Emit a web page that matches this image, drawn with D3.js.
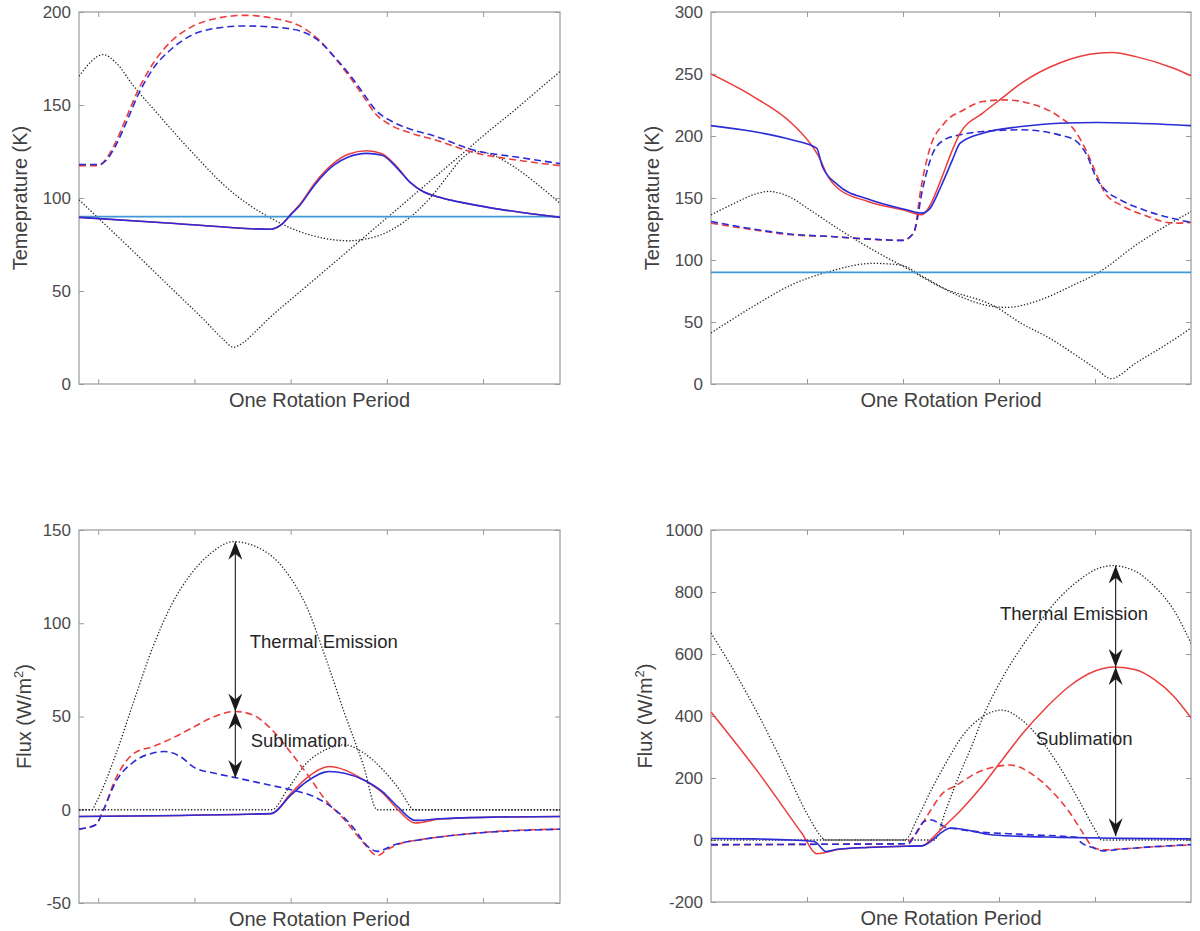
<!DOCTYPE html>
<html>
<head>
<meta charset="utf-8">
<script src="https://cdn.jsdelivr.net/npm/d3@7"></script>
<style>
body { margin: 0; background: #fff; }
text { font-family: "Liberation Sans", Arial, sans-serif; }
</style>
</head>
<body>
<script>
// x = fraction of one rotation period (0..1), y = value

// ---- tick labels ----
var rotTicksA = [0.04, 0.24, 0.44, 0.64, 0.84];
var rotTicksB = [0.2, 0.4, 0.6, 0.8];
var tempTicks1 = [0, 50, 100, 150, 200];
var tempTicks2 = [0, 50, 100, 150, 200, 250, 300];
var fluxTicks3 = [-50, 0, 50, 100, 150];
var fluxTicks4 = [-200, 0, 200, 400, 600, 800, 1000];

// ---- panel 1 : temperature (K) ----
var t1Cyan = [[0, 90], [1, 90]];
var t1RedSolid = [[0,89.6],[0.2,86.3],[0.399,83.2],[0.42,85.5],[0.441,91.5],[0.459,96.5],[0.49,108],[0.529,118.6],[0.56,123.5],[0.598,125.4],[0.63,123.8],[0.66,117],[0.688,108.5],[0.715,103.5],[0.737,101.3],[0.77,99],[0.806,97.1],[0.875,93.9],[0.945,91.4],[1,89.6]];
var t1BlueSolid = [[0,89.6],[0.2,86.3],[0.399,83.2],[0.42,85.5],[0.441,91.2],[0.459,96],[0.49,107],[0.529,117.5],[0.56,122],[0.598,124],[0.63,123],[0.66,116.5],[0.688,108.5],[0.715,103.5],[0.737,101.3],[0.77,99],[0.806,97.1],[0.875,93.9],[0.945,91.4],[1,89.6]];
var t1RedDash = [[0,117.4],[0.041,117.4],[0.059,122],[0.075,129.3],[0.099,143.6],[0.123,158],[0.154,172.3],[0.194,184.8],[0.234,192],[0.282,196.4],[0.345,198.2],[0.409,196.4],[0.457,192.8],[0.496,185.7],[0.536,174],[0.568,163.3],[0.592,154.4],[0.616,145.4],[0.648,139.2],[0.695,134.5],[0.737,131.5],[0.82,124.5],[0.91,120.4],[1,117.4]];
var t1BlueDash = [[0,118],[0.041,118],[0.059,121],[0.075,127.5],[0.099,141],[0.123,155.5],[0.154,169.5],[0.194,180.5],[0.234,187.5],[0.282,191.2],[0.345,192.5],[0.409,191.8],[0.457,190],[0.496,185],[0.536,174.5],[0.568,164.5],[0.592,156],[0.616,147.5],[0.648,141.5],[0.695,136.5],[0.737,133.5],[0.82,125.8],[0.91,122],[1,118.5]];
var t1DotA = [[0,165.5],[0.051,177.1],[0.075,173.2],[0.115,159.7],[0.154,148.1],[0.234,124.9],[0.313,104.3],[0.393,90],[0.459,81.9],[0.51,78.3],[0.56,77],[0.62,79.5],[0.68,88],[0.73,100],[0.77,113],[0.795,121],[0.82,125],[0.85,124],[0.9,117.5],[0.95,108],[1,97.1]];
var t1DotB = [[0,99],[0.1,74.5],[0.2,49.5],[0.26,34.5],[0.3,24],[0.321,19.8],[0.34,22],[0.37,29],[0.4,36.5],[0.45,47.5],[0.5,58.5],[0.55,69.5],[0.6,80.5],[0.65,91.5],[0.7,102.5],[0.75,113.5],[0.8,124.5],[0.85,135.5],[0.9,146],[0.95,157],[1,168]];

// ---- panel 2 : temperature (K) ----
var t2Cyan = [[0, 90], [1, 90]];
var t2RedSolid = [[0,250],[0.088,231.8],[0.168,210.3],[0.216,188.8],[0.228,180.8],[0.24,170],[0.264,157.9],[0.327,147.2],[0.407,139.7],[0.439,136.4],[0.455,143.2],[0.479,164.6],[0.503,188.8],[0.519,202.3],[0.566,218.4],[0.606,230.5],[0.646,242.5],[0.725,258.7],[0.805,266.7],[0.837,267.3],[0.885,264],[0.964,254.6],[1,248.5]];
var t2BlueSolid = [[0,208.4],[0.088,203.6],[0.168,196.9],[0.22,190.2],[0.232,175.4],[0.264,160.6],[0.327,149.1],[0.407,140.5],[0.439,137.8],[0.455,141],[0.479,159.3],[0.503,180.8],[0.519,194.2],[0.566,202.3],[0.646,207.6],[0.725,210.3],[0.805,210.9],[0.885,210.3],[1,208.4]];
var t2RedDash = [[0,129.7],[0.088,124.4],[0.168,120.3],[0.247,119],[0.327,116.8],[0.399,115.8],[0.422,121.7],[0.438,159.3],[0.455,188.8],[0.486,210.3],[0.526,221],[0.566,227.8],[0.614,229.1],[0.662,226.4],[0.725,215.7],[0.757,204.9],[0.781,188.8],[0.805,167.3],[0.821,153.9],[0.853,144.5],[0.901,136.4],[0.964,129.7],[1,130.3]];
var t2BlueDash = [[0,131],[0.088,125],[0.168,120.8],[0.247,119],[0.327,117],[0.399,115.8],[0.422,121.7],[0.442,159.3],[0.462,186.1],[0.486,196.9],[0.518,200.9],[0.566,203.6],[0.646,205],[0.725,200.9],[0.757,196.9],[0.781,186.1],[0.805,164.6],[0.821,156.6],[0.853,148.5],[0.901,140.5],[1,130.3]];
var t2DotA = [[0,136.4],[0.049,145.8],[0.088,152.6],[0.12,155.3],[0.168,150],[0.2,142],[0.269,124.2],[0.338,108],[0.408,93.3],[0.477,78.5],[0.595,61.8],[0.646,49],[0.706,36.8],[0.765,22],[0.805,11.5],[0.833,4.3],[0.885,16.9],[0.964,35.7],[1,45.1]];
var t2DotB = [[0,41.1],[0.088,62.6],[0.168,80],[0.247,90.8],[0.338,97.3],[0.394,96],[0.442,86.5],[0.512,71.8],[0.581,62.9],[0.616,61.8],[0.685,67.7],[0.755,79.8],[0.807,89.8],[0.885,112],[0.95,128],[1,139]];

// ---- panel 3 : flux (W/m2) ----
var f3RedSolid = [[0,-3.6],[0.399,-2.1],[0.441,8.9],[0.473,17],[0.52,23.2],[0.552,21.4],[0.592,16],[0.632,8.9],[0.663,0],[0.699,-7.1],[0.751,-5],[0.87,-3.9],[1,-3.6]];
var f3BlueSolid = [[0,-3.6],[0.399,-2.1],[0.441,8],[0.473,15],[0.52,20.5],[0.552,19.6],[0.592,16],[0.632,9.5],[0.663,1.5],[0.699,-5.7],[0.751,-4.8],[0.87,-3.9],[1,-3.6]];
var f3RedDash = [[0,-10.4],[0.035,-8],[0.051,0],[0.075,16],[0.115,30.4],[0.154,33.9],[0.194,38.4],[0.234,43.75],[0.274,49.1],[0.325,52.7],[0.361,50.9],[0.401,42.9],[0.441,30.4],[0.473,19.6],[0.512,5.4],[0.552,-5.4],[0.592,-17.9],[0.62,-24.6],[0.64,-21.4],[0.671,-17.9],[0.711,-16],[0.791,-13.4],[0.87,-11.6],[1,-10.4]];
var f3BlueDash = [[0,-10.4],[0.035,-8],[0.051,0],[0.075,14.3],[0.115,25.9],[0.154,30.4],[0.178,31.25],[0.21,28.6],[0.242,22.3],[0.282,19.6],[0.329,17],[0.393,13.4],[0.441,10.7],[0.488,7.1],[0.528,0.9],[0.568,-8.9],[0.6,-19.6],[0.62,-22.3],[0.656,-18.75],[0.711,-16],[0.791,-13.4],[1,-10.4]];
var f3DotBig = [[0,0],[0.027,0],[0.035,3.6],[0.075,28.6],[0.115,59],[0.154,87.5],[0.194,110.7],[0.234,126.8],[0.274,137.5],[0.321,143.75],[0.393,137.5],[0.433,126.8],[0.473,109],[0.512,82],[0.552,51.8],[0.592,23.2],[0.62,0],[1,0]];
var f3DotSmall = [[0,0],[0.401,0],[0.433,10.7],[0.473,25],[0.512,32.1],[0.552,34.8],[0.592,30.4],[0.632,21.4],[0.671,8.9],[0.691,0.9],[0.695,0],[1,0]];
var f3Arrows = [[0.325, 143.75, 52.7], [0.325, 52.7, 17]];
var f3Notes = [["Thermal Emission", 0.355, 86.7], ["Sublimation", 0.357, 33.6]];

// ---- panel 4 : flux (W/m2) ----
var f4RedSolid = [[0,413],[0.1,215],[0.19,20],[0.22,-44],[0.24,-39.5],[0.264,-31],[0.327,-23.4],[0.407,-20],[0.44,-19],[0.46,5],[0.48,35],[0.52,95],[0.56,165],[0.6,245],[0.65,345],[0.7,430],[0.75,500],[0.8,545],[0.84,558],[0.885,549],[0.924,517],[0.964,464],[1,394]];
var f4BlueSolid = [[0,5],[0.088,3.5],[0.168,0],[0.215,-5],[0.24,-37],[0.264,-30],[0.327,-24],[0.407,-20],[0.439,-19],[0.5,38.7],[0.588,16],[0.727,8.6],[0.852,5.4],[1,3.5]];
var f4RedDash = [[0,-15.8],[0.2,-14],[0.404,-12],[0.425,16],[0.449,75],[0.483,151],[0.512,177],[0.553,216],[0.602,239],[0.623,242],[0.671,210],[0.714,151],[0.748,87],[0.773,27],[0.796,-22.6],[0.817,-32],[0.852,-29],[0.9,-24],[1,-15.8]];
var f4BlueDash = [[0,-15],[0.2,-14],[0.41,-12],[0.429,27],[0.443,59],[0.46,64.5],[0.474,54.8],[0.49,40],[0.5,38],[0.553,27],[0.65,18],[0.762,8.6],[0.769,-5],[0.796,-25],[0.817,-35],[0.852,-30],[0.9,-24],[1,-15]];
var f4DotBig = [[0,668],[0.05,540],[0.1,400],[0.15,245],[0.2,85],[0.23,10],[0.237,0],[0.465,0],[0.49,100],[0.52,220],[0.545,310],[0.566,395],[0.606,520],[0.646,620],[0.686,706],[0.725,780],[0.765,836],[0.805,875],[0.837,885],[0.885,866],[0.924,818],[0.964,742],[1,635]];
var f4DotSmall = [[0,0],[0.404,0],[0.43,70],[0.46,165],[0.49,250],[0.526,340],[0.566,398],[0.606,419],[0.646,389],[0.686,325],[0.725,239],[0.765,132],[0.805,20],[0.813,0],[1,0]];
var f4Arrows = [[0.843, 885, 558], [0.843, 558, 12]];
var f4Notes = [["Thermal Emission", 0.602, 709], ["Sublimation", 0.677, 306]];

// ---- drawing ----
var W = 1200, H = 931;
var svg = d3.select("body").append("svg").attr("width", W).attr("height", H);

var styles = {
	dot:       { c: "#222", w: 1.3, d: "1.3,1.9" },
	cyan:      { c: "#3d9ad6", w: 1.6, d: null },
	redDash:   { c: "#ec3d3d", w: 1.6, d: "7,4" },
	blueDash:  { c: "#2b2bd8", w: 1.6, d: "7,4" },
	redSolid:  { c: "#ec3d3d", w: 1.5, d: null },
	blueSolid: { c: "#2b2bd8", w: 1.6, d: null }
};

var defs = svg.append("defs");
defs.append("marker")
	.attr("id", "head")
	.attr("viewBox", "0 0 18 14")
	.attr("refX", 18).attr("refY", 7)
	.attr("markerWidth", 18).attr("markerHeight", 14)
	.attr("markerUnits", "userSpaceOnUse")
	.attr("orient", "auto-start-reverse")
	.append("path")
	.attr("d", "M0,0 L18,7 L0,14 L6,7 Z")
	.attr("fill", "#1a1a1a");

// plain labels: no thousands comma, ascii hyphen for negatives
function plain(d) { return String(d); }

function panel(cfg, idx) {
	var g = svg.append("g").attr("transform", "translate(" + cfg.left + "," + cfg.top + ")");
	var x = d3.scaleLinear().domain([0, 1]).range([0, cfg.w]);
	var y = d3.scaleLinear().domain(cfg.yDomain).range([cfg.h, 0]);

	defs.append("clipPath").attr("id", "clip" + idx)
		.append("rect").attr("width", cfg.w).attr("height", cfg.h);

	// axes, ticks pointing inward on all four sides
	var axes = [
		g.append("g").attr("transform", "translate(0," + cfg.h + ")")
			.call(d3.axisBottom(x).tickValues(cfg.xTicks).tickSizeInner(-5).tickSizeOuter(0).tickFormat("")),
		g.append("g")
			.call(d3.axisTop(x).tickValues(cfg.xTicks).tickSizeInner(-5).tickSizeOuter(0).tickFormat("")),
		g.append("g")
			.call(d3.axisLeft(y).tickValues(cfg.yTicks).tickSizeInner(-5).tickSizeOuter(0).tickPadding(8).tickFormat(plain)),
		g.append("g").attr("transform", "translate(" + cfg.w + ",0)")
			.call(d3.axisRight(y).tickValues(cfg.yTicks).tickSizeInner(-5).tickSizeOuter(0).tickFormat(""))
	];
	axes.forEach(function(a) {
		a.select(".domain").remove();
		a.selectAll(".tick line").attr("stroke", "#9a9a9a");
		a.selectAll(".tick text")
			.attr("font-size", "17px")
			.attr("fill", "#4a4a4a")
			.style("font-family", "'Liberation Sans', Arial, sans-serif");
	});

	g.append("rect")
		.attr("width", cfg.w).attr("height", cfg.h)
		.attr("fill", "none").attr("stroke", "#9a9a9a").attr("stroke-width", 1.2);

	var line = d3.line()
		.x(function(d) { return x(d[0]); })
		.y(function(d) { return y(d[1]); })
		.curve(d3.curveMonotoneX);

	var plot = g.append("g").attr("clip-path", "url(#clip" + idx + ")");
	cfg.series.forEach(function(s) {
		var st = styles[s[1]];
		plot.append("path")
			.datum(s[0])
			.attr("d", line)
			.attr("fill", "none")
			.attr("stroke", st.c)
			.attr("stroke-width", st.w)
			.attr("stroke-dasharray", st.d);
	});

	// double arrows and their labels
	(cfg.arrows || []).forEach(function(a) {
		g.append("line")
			.attr("x1", x(a[0])).attr("y1", y(a[1]))
			.attr("x2", x(a[0])).attr("y2", y(a[2]))
			.attr("stroke", "#1a1a1a").attr("stroke-width", 1.1)
			.attr("marker-start", "url(#head)")
			.attr("marker-end", "url(#head)");
	});
	(cfg.notes || []).forEach(function(n) {
		g.append("text")
			.attr("x", x(n[1])).attr("y", y(n[2]))
			.attr("font-size", "18.5px").attr("fill", "#262626")
			.text(n[0]);
	});

	// axis labels
	g.append("text")
		.attr("x", cfg.w / 2).attr("y", cfg.h + 23)
		.attr("text-anchor", "middle")
		.attr("font-size", "20px").attr("fill", "#404040")
		.text("One Rotation Period");

	var yl = g.append("text")
		.attr("transform", "translate(" + cfg.ylabX + "," + (cfg.h / 2) + ") rotate(-90)")
		.attr("text-anchor", "middle")
		.attr("dy", "0.35em")
		.attr("font-size", "20px").attr("fill", "#404040");
	if (cfg.flux) {
		yl.append("tspan").text("Flux (W/m");
		yl.append("tspan").attr("font-size", "13px").attr("dy", "-8").text("2");
		yl.append("tspan").attr("dy", "8").text(")");
	} else {
		yl.text("Temeprature (K)");
	}
}

panel({ left: 79, top: 12, w: 481, h: 372, yDomain: [0, 200], yTicks: tempTicks1, xTicks: rotTicksA, ylabX: -59,
	series: [[t1DotA, "dot"], [t1DotB, "dot"], [t1Cyan, "cyan"], [t1RedDash, "redDash"], [t1BlueDash, "blueDash"],
	         [t1RedSolid, "redSolid"], [t1BlueSolid, "blueSolid"]] }, 1);

panel({ left: 711, top: 12, w: 480, h: 372, yDomain: [0, 300], yTicks: tempTicks2, xTicks: rotTicksB, ylabX: -59,
	series: [[t2DotA, "dot"], [t2DotB, "dot"], [t2Cyan, "cyan"], [t2RedDash, "redDash"], [t2BlueDash, "blueDash"],
	         [t2RedSolid, "redSolid"], [t2BlueSolid, "blueSolid"]] }, 2);

panel({ left: 79, top: 530, w: 481, h: 373, yDomain: [-50, 150], yTicks: fluxTicks3, xTicks: rotTicksA, ylabX: -55, flux: true,
	series: [[f3DotBig, "dot"], [f3DotSmall, "dot"], [f3RedDash, "redDash"], [f3BlueDash, "blueDash"],
	         [f3RedSolid, "redSolid"], [f3BlueSolid, "blueSolid"]],
	arrows: f3Arrows, notes: f3Notes }, 3);

panel({ left: 711, top: 530, w: 480, h: 372, yDomain: [-200, 1000], yTicks: fluxTicks4, xTicks: rotTicksB, ylabX: -66, flux: true,
	series: [[f4DotBig, "dot"], [f4DotSmall, "dot"], [f4RedDash, "redDash"], [f4BlueDash, "blueDash"],
	         [f4RedSolid, "redSolid"], [f4BlueSolid, "blueSolid"]],
	arrows: f4Arrows, notes: f4Notes }, 4);
</script>
</body>
</html>
